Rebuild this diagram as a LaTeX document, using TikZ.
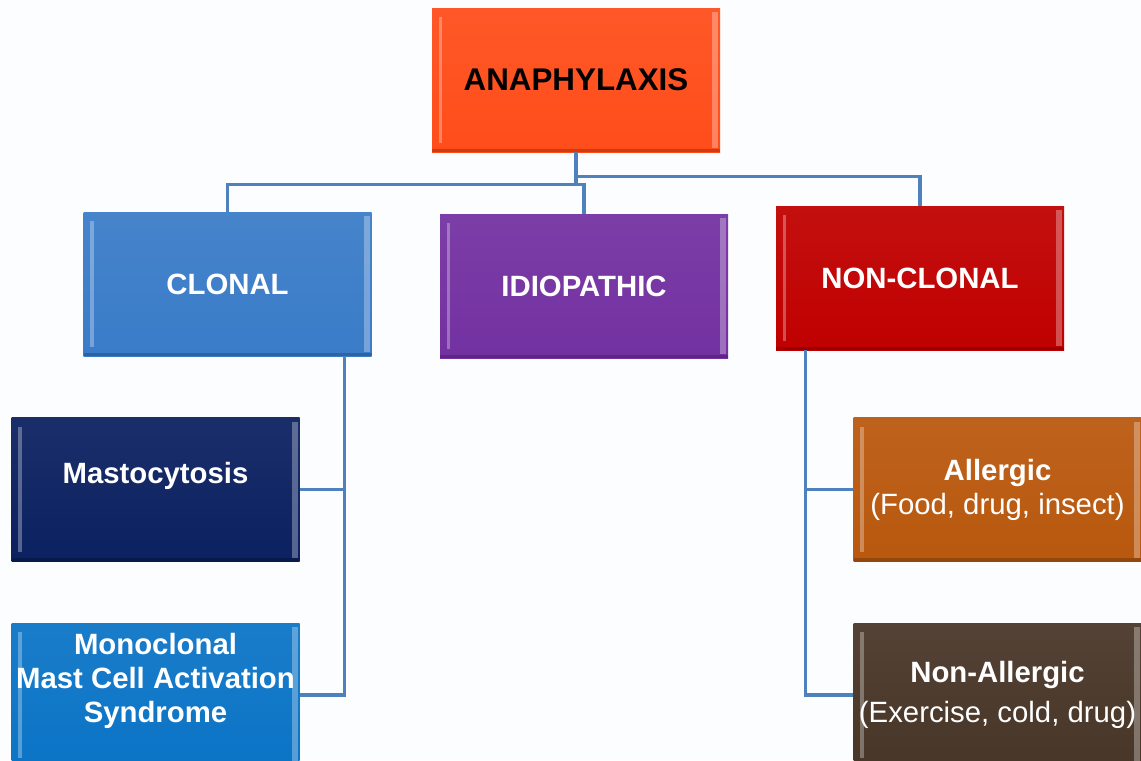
\documentclass[tikz,border=0pt]{standalone}
\usepackage{fontspec}
\setmainfont{Liberation Sans}
\usetikzlibrary{positioning}

\definecolor{pagebg}{HTML}{FCFDFE}
\definecolor{linkblue}{HTML}{4F81BD}
\definecolor{anaorange}{HTML}{FF4D1A}
\definecolor{clonalblue}{HTML}{3A7CC8}
\definecolor{idiopurple}{HTML}{7331A1}
\definecolor{nonclonalred}{HTML}{C00000}
\definecolor{mastonavy}{HTML}{0B2160}
\definecolor{mcasblue}{HTML}{0B74C6}
\definecolor{allergicbrown}{HTML}{B9580E}
\definecolor{woodbrown}{HTML}{483628}

\tikzset{
  bevel/.style={path picture={
    \fill[white,opacity=0.3] ([xshift=5pt,yshift=-7pt]path picture bounding box.north west)
      rectangle ([xshift=7.5pt,yshift=7pt]path picture bounding box.south west);
    \fill[white,opacity=0.3] ([xshift=-6pt,yshift=-3pt]path picture bounding box.north east)
      rectangle ([xshift=-1.5pt,yshift=3pt]path picture bounding box.south east);
    \fill[black,opacity=0.2] (path picture bounding box.south west)
      rectangle ([yshift=2.5pt]path picture bounding box.south east);
  }},
  box/.style={rectangle, minimum width=216pt, minimum height=108pt, inner sep=1pt,
    align=center, text=white, font=\fontsize{22}{25.5}\selectfont\bfseries,
    top color=#1!94!white, bottom color=#1, bevel},
  link/.style={draw=linkblue, line width=2.3pt},
}

\begin{document}
\begin{tikzpicture}[x=0.75pt, y=-0.75pt]
  \useasboundingbox (0,0) rectangle (1141,760);
  \clip (0,0) rectangle (1141,760);
  \fill[pagebg] (0,0) rectangle (1141,760);

  % top level
  \node[box=anaorange, text=black, font=\fontsize{23.5}{27}\selectfont\bfseries] (ana) at (576,80) {ANAPHYLAXIS};

  % second level
  \node[box=clonalblue] (clonal) at (227.5,284) {CLONAL};
  \node[box=idiopurple] (idio) at (584,286) {IDIOPATHIC};
  \node[box=nonclonalred] (nonclonal) at (920,278) {NON-CLONAL};

  % third level
  \node[box=mastonavy] (masto) at (155.5,489.5) {Mastocytosis\\\mbox{}};
  \node[box=mcasblue] (mcas) at (155.5,695) {Monoclonal\\Mast Cell Activation\\Syndrome\\\mbox{}};
  \node[box=allergicbrown] (allergic) at (997.5,489.5) {Allergic\\\mdseries(Food, drug, insect)};
  \node[box=woodbrown] (nonallergic) at (997.5,695) {Non-Allergic\\[5pt]\mdseries(Exercise, cold, drug)};

  % connectors
  \path (ana.south) ++(0,24) coordinate (jr) ++(0,8) coordinate (jl);
  \draw[link] (ana.south) -- (jl) -| (clonal.north);
  \draw[link] (jl) -| (idio.north);
  \draw[link] (jr) -| (nonclonal.north);

  \draw[link] ([xshift=88pt]clonal.south) |- (mcas.east);
  \draw[link] (masto.east) -| ([xshift=88pt]clonal.south);

  \draw[link] ([xshift=22pt]nonclonal.south west) |- (nonallergic.west);
  \draw[link] (allergic.west) -| ([xshift=22pt]nonclonal.south west);
\end{tikzpicture}
\end{document}
